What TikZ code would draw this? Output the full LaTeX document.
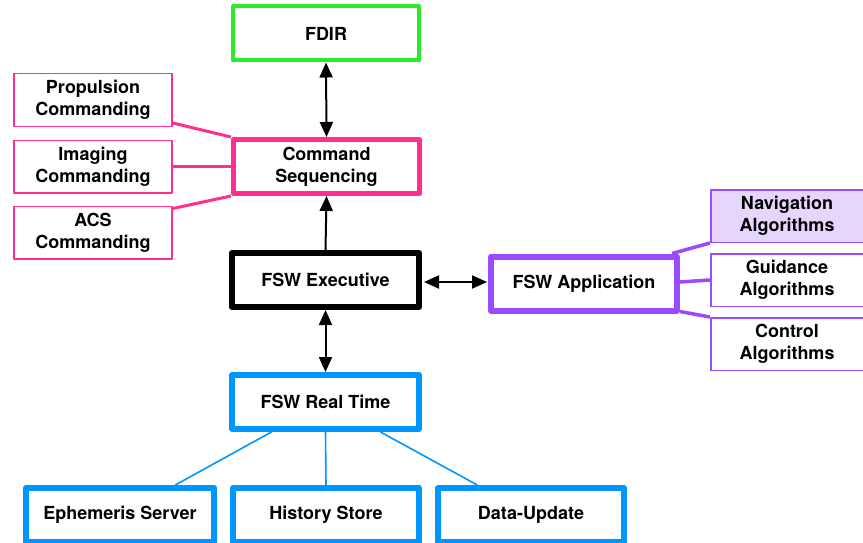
\documentclass[tikz,border=0pt]{standalone}
\usepackage{fontspec}
\setmainfont{TeX Gyre Heros}
\usetikzlibrary{arrows.meta,calc}
\definecolor{fdirgreen}{HTML}{2CEB2C}
\definecolor{cmdpink}{HTML}{FF2F92}
\definecolor{apppurple}{HTML}{9A4BFF}
\definecolor{navfill}{HTML}{E6D6FB}
\definecolor{rtblue}{HTML}{0096FF}
\begin{document}
\begin{tikzpicture}[x=1pt,y=-1pt,
  font=\fontsize{18}{21.6}\selectfont\bfseries,
  box/.style={draw, rectangle, align=center, inner sep=0pt, line join=round},
  mainbox/.style={box, line width=#1, minimum width=186, minimum height=54},
  subbox/.style={box, line width=1.5, minimum width=158, minimum height=52.5},
  algbox/.style={box, line width=1.5, draw=apppurple, minimum width=152.5, minimum height=52.5},
  cmdlink/.style={line width=3, draw=cmdpink},
  alglink/.style={line width=3.5, draw=apppurple},
  rtlink/.style={line width=1.6, draw=rtblue},
  dblarrow/.style={line width=2, {Triangle[length=15,width=13]}-{Triangle[length=15,width=13]}},
  uparrow/.style={line width=2, -{Triangle[length=15,width=13]}}
]
\useasboundingbox (0,0) rectangle (863,543);

% central column
\node[mainbox=4, draw=fdirgreen] (fdir) at (326,33.5) {FDIR};
\node[mainbox=5, draw=cmdpink] (cs) at (326.5,166.5) {Command\\Sequencing};
\node[mainbox=6, draw=black, minimum width=187] (exec) at (325.5,280) {FSW Executive};
\node[mainbox=6, draw=rtblue, minimum width=187] (rt) at (325.5,402) {FSW Real Time};

% commanding units
\node[subbox, draw=cmdpink] (prop) at (93,100) {Propulsion\\Commanding};
\node[subbox, draw=cmdpink] (img) at (93,166.5) {Imaging\\Commanding};
\node[subbox, draw=cmdpink] (acs) at (93,232.5) {ACS\\Commanding};

% application and algorithms
\node[mainbox=6, draw=apppurple] (app) at (584,283.5) {FSW Application};
\node[algbox, fill=navfill] (nav) at (787,216) {Navigation\\Algorithms};
\node[algbox] (guid) at (787,280) {Guidance\\Algorithms};
\node[algbox] (ctrl) at (787,344) {Control\\Algorithms};

% real-time services
\node[mainbox=6, draw=rtblue, minimum width=188] (eph) at (120,515) {Ephemeris Server};
\node[mainbox=6, draw=rtblue] (hist) at (326,515) {History Store};
\node[mainbox=6, draw=rtblue] (data) at (531,515) {Data-Update};

% arrows (shifts are in page units: positive yshift moves up)
\draw[dblarrow] (fdir.south) -- (cs.north);
\draw[uparrow] (exec.north) -- (cs.south);
\draw[dblarrow] (exec.south) -- (rt.north);
\draw[dblarrow] ([xshift=2,yshift=-2]exec.east) -- ([xshift=-1,yshift=1.5]app.west);

% commanding links
\draw[cmdlink] ([yshift=4]prop.south east) -- (cs.north west);
\draw[cmdlink] (img.east) -- (cs.west);
\draw[cmdlink] ([yshift=-3]acs.north east) -- (cs.south west);

% algorithm links
\draw[alglink] ([xshift=-8]app.north east) -- (nav.south west);
\draw[alglink] ([yshift=1.5]app.east) -- (guid.west);
\draw[alglink] ([yshift=2]app.south east) -- (ctrl.north west);

% service links
\draw[rtlink] ($(rt.south)!0.56!(rt.south west)$) -- ($(eph.north)!0.57!(eph.north east)$);
\draw[rtlink] (rt.south) -- (hist.north);
\draw[rtlink] ($(rt.south)!0.57!(rt.south east)$) -- ($(data.north)!0.56!(data.north west)$);
\end{tikzpicture}
\end{document}
